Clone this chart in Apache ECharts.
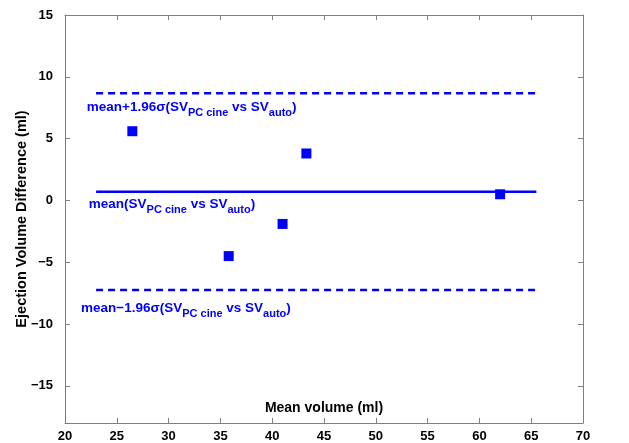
<!DOCTYPE html>
<html><head><meta charset="utf-8">
<script src="https://cdn.jsdelivr.net/npm/echarts@6/dist/echarts.min.js"></script>
<style>html,body{margin:0;padding:0;background:#fff}#c{width:629px;height:443px}</style>
</head><body><div id="c"></div>
<script>
// Data
const meanVolume = [26.5, 43.3, 62.0, 41.0, 35.8];
const volumeDiff = [5.6, 3.8, 0.5, -1.9, -4.5];
const meanDiff = 0.7;
const upperLimit = 8.67;
const lowerLimit = -7.25;
const lineXRange = [23, 65.5];
const yTicks = [-15, -10, -5, 0, 5, 10, 15];
const xTicks = [20, 25, 30, 35, 40, 45, 50, 55, 60, 65, 70];
const annotations = [
  { x: 22.1, y: 7.55, pre: 'mean+1.96σ(SV' },
  { x: 22.3, y: -0.3, pre: 'mean(SV' },
  { x: 21.55, y: -8.7, pre: 'mean−1.96σ(SV' }
];

const FONT = '"Liberation Sans", Arial, sans-serif';
const BLUE = '#0000ff';
const chart = echarts.init(document.getElementById('c'));

const axisLineStyle = { show: true, onZero: false, lineStyle: { color: '#808080', width: 1 } };
const tick = { inside: true, length: 5, lineStyle: { color: '#808080' } };

const rich = {
  m: { fontFamily: FONT, fontWeight: 'bold', fontSize: 13.5, color: BLUE, lineHeight: 16 },
  s: { fontFamily: FONT, fontWeight: 'bold', fontSize: 11, color: BLUE, padding: [12, 0, 0, 0], lineHeight: 12 }
};

chart.setOption({
  animation: false,
  grid: { left: 65, right: 46, top: 15, bottom: 20, outerBoundsMode: 'none', containLabel: false },
  xAxis: [
    {
      type: 'value', min: 20, max: 70, interval: 5, position: 'bottom',
      axisLine: axisLineStyle, axisTick: tick, splitLine: { show: false },
      axisLabel: { color: '#000', fontFamily: FONT, fontWeight: 'bold', fontSize: 13, margin: 7 },
      name: 'Mean volume (ml)', nameLocation: 'middle', nameGap: -22, nameMoveOverlap: false,
      nameTextStyle: { color: '#000', fontFamily: FONT, fontWeight: 'bold', fontSize: 14 }
    },
    {
      type: 'value', min: 20, max: 70, interval: 5, position: 'top',
      axisLine: axisLineStyle, axisTick: tick, splitLine: { show: false },
      axisLabel: { show: false }
    }
  ],
  yAxis: [
    {
      type: 'value', min: -18, max: 15, position: 'left',
      axisLine: axisLineStyle,
      axisTick: Object.assign({ customValues: yTicks }, tick),
      splitLine: { show: false },
      axisLabel: { customValues: yTicks, color: '#000', fontFamily: FONT, fontWeight: 'bold', fontSize: 13, margin: 12,
        formatter: v => (v < 0 ? '\u2212' + Math.abs(v) : String(v)) },
      name: 'Ejection Volume Difference (ml)', nameLocation: 'middle', nameGap: 36, nameMoveOverlap: false,
      nameTextStyle: { color: '#000', fontFamily: FONT, fontWeight: 'bold', fontSize: 14.5 }
    },
    {
      type: 'value', min: -18, max: 15, position: 'right',
      axisLine: axisLineStyle,
      axisTick: Object.assign({ customValues: yTicks }, tick),
      splitLine: { show: false }, axisLabel: { show: false }
    }
  ],
  series: [
    {
      type: 'line', data: [[lineXRange[0], meanDiff], [lineXRange[1], meanDiff]],
      symbol: 'none', lineStyle: { color: BLUE, width: 2.5 }, z: 2
    },
    {
      type: 'line', data: [[lineXRange[0], upperLimit], [lineXRange[1], upperLimit]],
      symbol: 'none', lineStyle: { color: BLUE, width: 2.5, type: [7, 5] }, z: 2
    },
    {
      type: 'line', data: [[lineXRange[0], lowerLimit], [lineXRange[1], lowerLimit]],
      symbol: 'none', lineStyle: { color: BLUE, width: 2.5, type: [7, 5] }, z: 2
    },
    {
      type: 'scatter', symbol: 'rect', symbolSize: 10,
      itemStyle: { color: BLUE, opacity: 1 },
      data: meanVolume.map((x, i) => [x, volumeDiff[i]]), z: 3
    },
    {
      type: 'scatter', symbolSize: 0, silent: true,
      itemStyle: { opacity: 1 },
      data: annotations.map(a => ({ value: [a.x, a.y] })),
      label: {
        show: true, position: 'right', distance: 0, opacity: 1,
        formatter: p => '{m|' + annotations[p.dataIndex].pre + '}{s|PC cine}{m| vs SV}{s|auto}{m|)}',
        rich: rich
      }
    }
  ]
});
</script>
</body></html>
